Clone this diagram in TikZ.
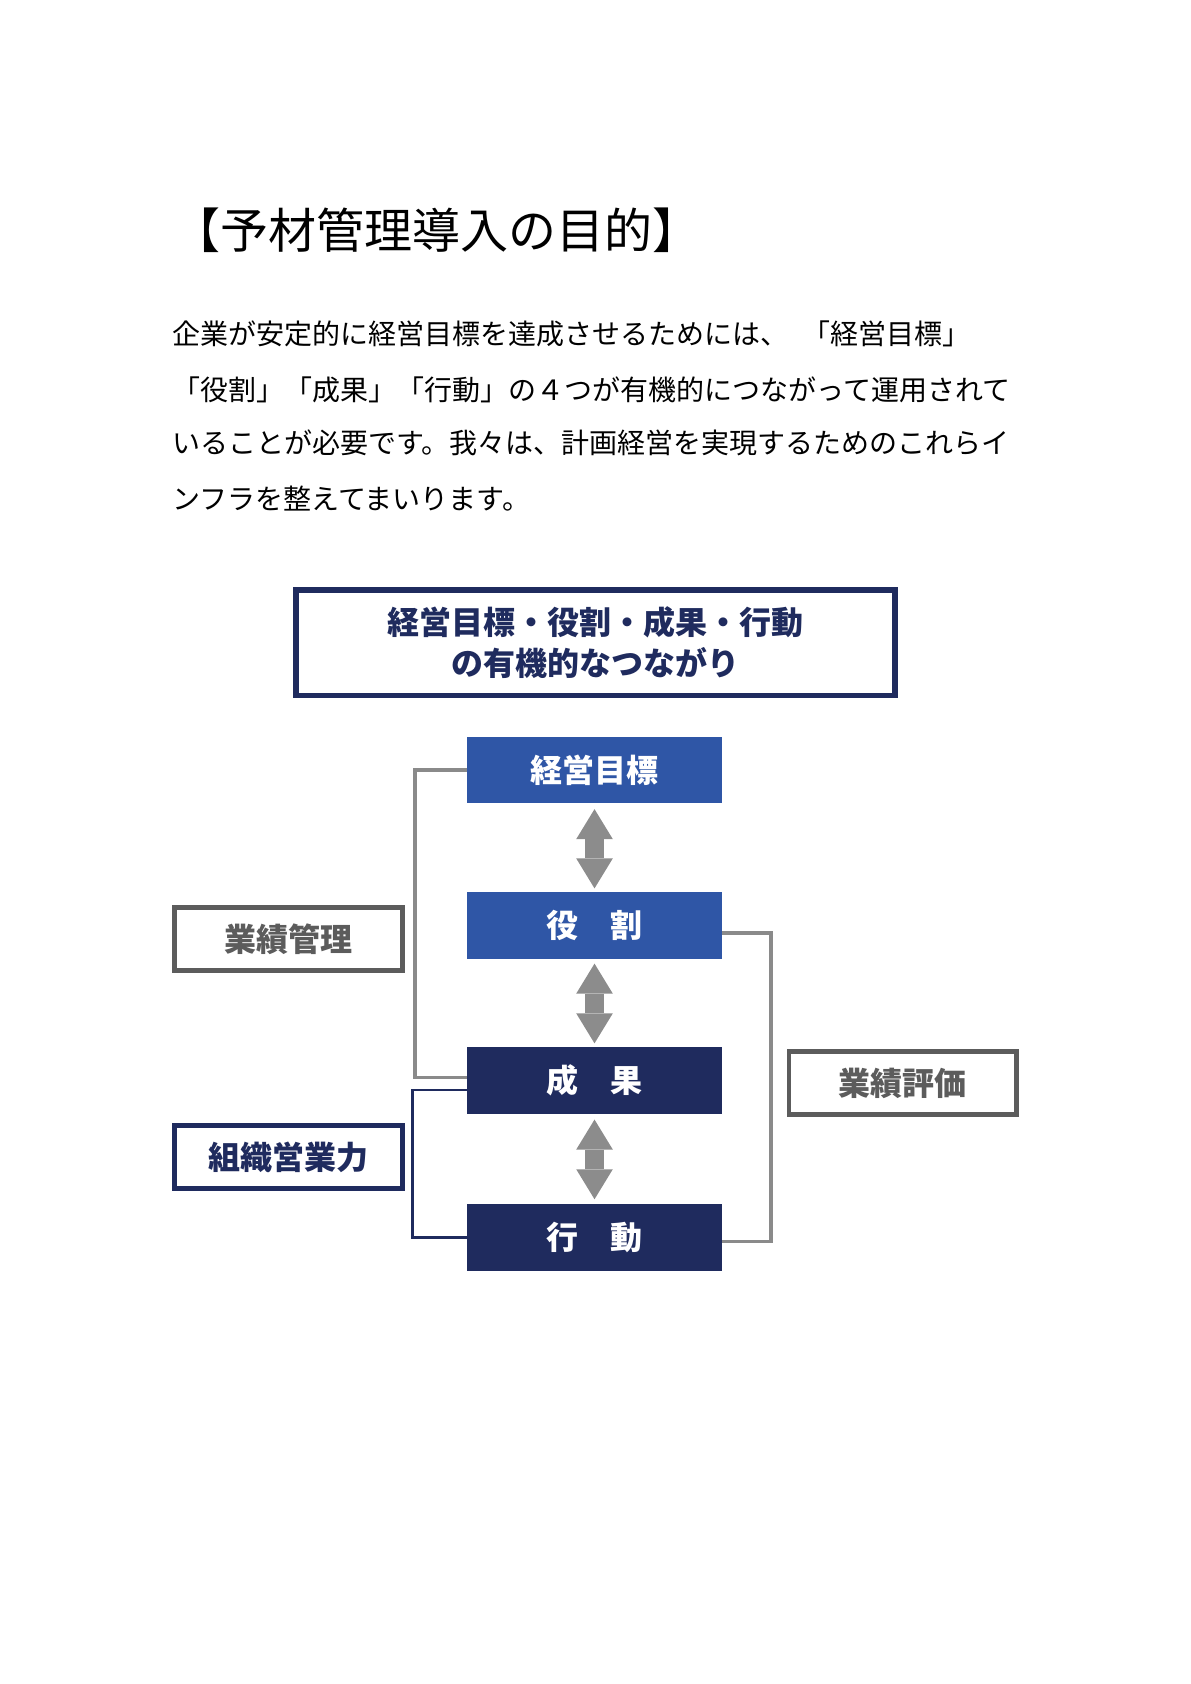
\documentclass[tikz,border=0pt]{standalone}
\usepackage{fontspec}
\setmainfont{Noto Sans CJK JP}
\usepackage{tikz}
\usetikzlibrary{arrows.meta}
\definecolor{keiblue}{RGB}{47,86,166}
\definecolor{keinavy}{RGB}{31,43,94}
\definecolor{linkgray}{RGB}{138,138,138}
\definecolor{arrowgray}{RGB}{140,140,140}
\definecolor{sidegray}{RGB}{92,92,92}

\begin{document}
\begin{tikzpicture}[x=0.538pt,y=-0.538pt,
    body/.style={anchor=west,inner sep=0pt,font=\fontsize{14}{14}\selectfont},
    stage/.style={minimum width=127.5pt,minimum height=33.4pt,inner sep=0pt,text=white,font=\fontsize{16}{16}\selectfont\bfseries},
    sidebox/.style={line width=2.4pt,fill=white,minimum width=113.8pt,minimum height=31.5pt,inner sep=0pt,font=\fontsize{16}{16}\selectfont\bfseries},
    link/.style={linkgray,line width=1.65pt},
    twoway/.style={arrowgray,line width=9.6pt,<->,>={Triangle[width=18.3pt,length=15pt,line width=0pt 0]}}]
    \useasboundingbox (0,0) rectangle (1106,1565);

    % heading and text
    \node[anchor=west,inner sep=0pt,font=\fontsize{24}{24}\selectfont] (title) at (160,214) {【予材管理導入の目的】};
    \node[body] (line1) at (160,310) {企業が安定的に経営目標を達成させるためには、\hspace{0.5em}「経営目標」};
    \node[body] (line2) at (160,362) {「役割」「成果」「行動」の４つが有機的につながって運用されて};
    \node[body] (line3) at (160,412) {いることが必要です。我々は、計画経営を実現するためのこれらイ};
    \node[body] (line4) at (160,463) {ンフラを整えてまいります。};

    \node[draw=keinavy,line width=2.8pt,minimum width=299.4pt,minimum height=52.7pt,align=center,text=keinavy,
          font=\fontsize{16}{20.5}\selectfont\bfseries] (bond) at (553.5,597.5) {経営目標・役割・成果・行動\\の有機的なつながり};

    % four stages
    \node[stage,fill=keiblue] (goal) at (552.5,715.5) {経営目標};
    \node[stage,fill=keiblue] (role) at (552.5,860) {役　割};
    \node[stage,fill=keinavy] (result) at (552.5,1004) {成　果};
    \node[stage,fill=keinavy] (action) at (552.5,1150) {行　動};

    \draw[twoway,shorten <=2.7pt,shorten >=1.6pt] (goal.south) -- (role.north);
    \draw[twoway,shorten <=2.2pt,shorten >=1.6pt] (role.south) -- (result.north);
    \draw[twoway,shorten <=2.7pt,shorten >=2.2pt] (result.south) -- (action.north);

    % side labels
    \node[sidebox,draw=sidegray,text=sidegray] (perfmgmt) at (268,872.5) {業績管理};
    \node[sidebox,draw=keinavy,text=keinavy] (orgsales) at (268,1075.5) {組織営業力};
    \node[sidebox,draw=sidegray,text=sidegray] (perfeval) at (839,1006.5) {業績評価};

    % brackets
    \coordinate (leftrail) at (385.7,0);
    \coordinate (navyrail) at (383.5,0);
    \coordinate (rightrail) at (716.5,0);
    \draw[link] (goal.west) -- (goal.west -| leftrail) |- ([yshift=1.5pt]result.west);
    \draw[keinavy,line width=1.3pt] ([yshift=-4.8pt]result.west) -- ([yshift=-4.8pt]result.west -| navyrail) |- (action.west);
    \draw[link] ([yshift=-3.8pt]role.east) -- ([yshift=-3.8pt]role.east -| rightrail) |- ([yshift=-2pt]action.east);
\end{tikzpicture}
\end{document}
